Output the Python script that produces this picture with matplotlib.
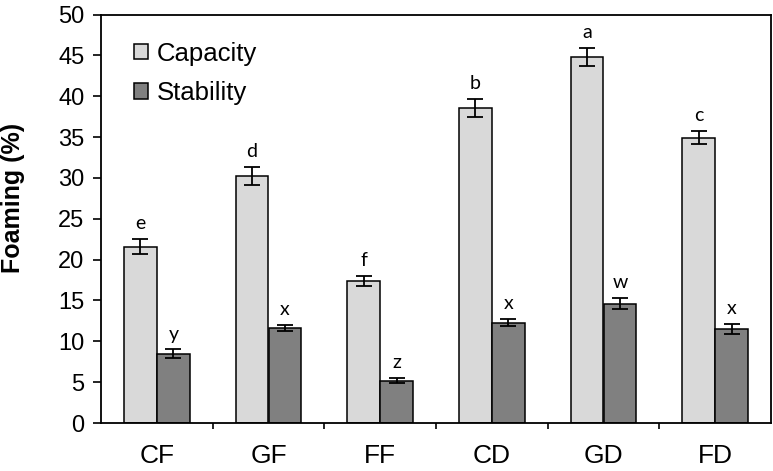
import numpy as np
import matplotlib.pyplot as plt
from matplotlib.ticker import FixedLocator

samples = ['CF', 'GF', 'FF', 'CD', 'GD', 'FD']
capacity = [21.6, 30.2, 17.4, 38.6, 44.8, 34.9]
capacity_err = [0.9, 1.1, 0.6, 1.1, 1.1, 0.8]
stability = [8.5, 11.6, 5.2, 12.3, 14.6, 11.5]
stability_err = [0.5, 0.4, 0.3, 0.45, 0.7, 0.6]
cap_letters = ['e', 'd', 'f', 'b', 'a', 'c']
stab_letters = ['y', 'x', 'z', 'x', 'w', 'x']

plt.rcParams['font.family'] = ['Liberation Sans', 'DejaVu Sans']

fig = plt.figure(figsize=(7.73, 4.71), dpi=100)
ax = fig.add_axes([101 / 773, 48 / 471, 670 / 773, 408.5 / 471])

x = np.arange(len(samples))
w = 0.295
ekw = dict(elinewidth=1.3, capthick=1.3)
ax.bar(x - w / 2, capacity, w, color='#d9d9d9', edgecolor='black', linewidth=1.1,
       yerr=capacity_err, capsize=6, error_kw=ekw, label='Capacity', zorder=2)
ax.bar(x + w / 2, stability, w, color='#808080', edgecolor='black', linewidth=1.1,
       yerr=stability_err, capsize=6, error_kw=ekw, label='Stability', zorder=2)

for i in range(len(samples)):
    ax.annotate(cap_letters[i], (x[i] - w / 2, capacity[i] + capacity_err[i]),
                xytext=(0, 5), textcoords='offset points', ha='center', va='bottom',
                fontsize=14, family=['Lato', 'DejaVu Sans'])
    ax.annotate(stab_letters[i], (x[i] + w / 2, stability[i] + stability_err[i]),
                xytext=(0, 5), textcoords='offset points', ha='center', va='bottom',
                fontsize=14, family=['Lato', 'DejaVu Sans'])

ax.set_xlim(-0.5, len(samples) - 0.5)
ax.set_ylim(0, 50)
ax.set_yticks(np.arange(0, 51, 5))
ax.set_xticks(x)
ax.set_xticklabels(samples, fontsize=19)
ax.xaxis.set_minor_locator(FixedLocator(np.arange(0.5, len(samples) - 1, 1)))
ax.tick_params(axis='x', which='major', length=0, pad=15)
ax.tick_params(axis='x', which='minor', length=4.5, width=1.2, direction='out')
ax.tick_params(axis='y', labelsize=17, length=6, width=1.2, direction='out', pad=6)
for s in ax.spines.values():
    s.set_linewidth(1.3)

ax.set_ylabel('Foaming (%)', fontsize=18, fontweight='bold')
ax.yaxis.set_label_coords(-0.113, 0.55)

ax.legend(loc='upper left', bbox_to_anchor=(0.014, 0.99), frameon=False,
          fontsize=18.5, handlelength=0.55, handleheight=0.55, handletextpad=0.35,
          labelspacing=0.6)

plt.savefig('out.png', dpi=100)
